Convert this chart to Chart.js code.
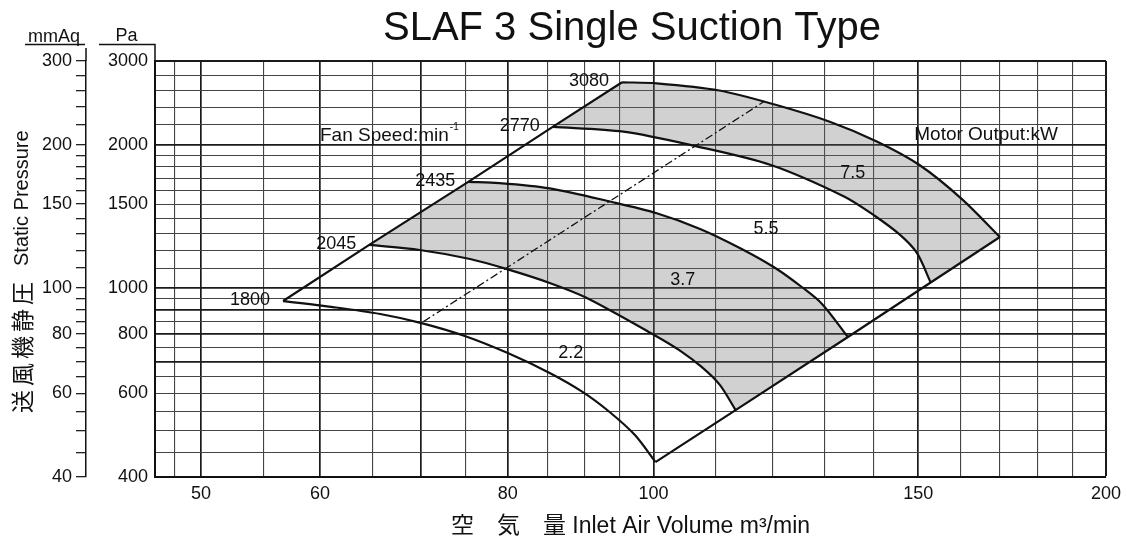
<!DOCTYPE html>
<html>
<head>
<meta charset="utf-8">
<script src="https://cdn.jsdelivr.net/npm/chart.js@4.4.0/dist/chart.umd.min.js"></script>
<style>
  html, body { margin: 0; padding: 0; background: #fff; }
  #wrap { width: 1127px; height: 540px; position: relative; }
</style>
</head>
<body>
<div id="wrap"><canvas id="chartSlaf"></canvas></div>
<script>
// === Data ===
const rpmSpeeds = [1800, 2045, 2435, 2770, 3080];

// fan curves: air volume (m3/min) / static pressure (Pa)
const q1800 = [56.7, 61.2, 65.8, 70.1, 74.9, 80.0, 85.3, 89.7, 93.5, 97.2, 100.3];
const p1800 = [938, 911, 881, 843, 792, 729, 662, 604, 548, 490, 430];
const q2045 = [64.7, 69.9, 75.5, 79.9, 85.3, 90.3, 100.3, 104.2, 107.7, 110.7, 113.4];
const p2045 = [1231, 1201, 1150, 1095, 1024, 952, 793, 737, 681, 625, 553];
const q2435 = [75.3, 79.0, 85.3, 93.7, 100.5, 107.4, 114.3, 120.5, 125.5, 129.5, 134.7];
const p2435 = [1670, 1661, 1619, 1517, 1435, 1330, 1210, 1101, 1004, 924, 788];
const q2770 = [85.7, 95.5, 106.3, 119.7, 134.0, 140.4, 145.9, 149.7, 152.9];
const p2770 = [2180, 2130, 1991, 1813, 1555, 1416, 1292, 1184, 1026];
const q3080 = [95.3, 100.5, 110.6, 120.4, 131.0, 140.9, 150.3, 160.4, 170.0];
const p3080 = [2706, 2693, 2601, 2430, 2236, 2030, 1813, 1537, 1279];

// dash-dot line
const bepQ = [70.3, 118.4];
const bepP = [849, 2463];

// motor output labels
const kwLabels = ["2.2", "3.7", "5.5", "7.5"];
const kwLabelQ = [88.1, 104.6, 118.8, 135.7];
const kwLabelP = [729, 1038, 1330, 1744];

// axes
const xGrid = [48, 50, 55, 60, 65, 70, 75, 80, 85, 90, 95, 100, 110, 120, 130, 140, 150, 160, 170, 180, 190, 200];
const xLabels = [50, 60, 80, 100, 150, 200];
const xMajor = [50, 60, 70, 80, 100, 150, 200];
const paGrid = [400, 450, 500, 550, 600, 650, 700, 750, 800, 850, 900, 950, 1000,
  1100, 1200, 1300, 1400, 1500, 1600, 1700, 1800, 1900, 2000, 2200, 2400, 2600, 2800, 3000];
const paLabels = [400, 600, 800, 1000, 1500, 2000, 3000];
const paMajor = [700, 800, 900, 1000, 2000];
const mmaqTicks = [40, 45, 50, 55, 60, 65, 70, 75, 80, 85, 90, 95, 100, 110, 120, 130, 140,
  150, 160, 170, 180, 190, 200, 220, 240, 260, 280, 300];
const mmaqLabels = [40, 60, 80, 100, 150, 200, 300];

// === Build datasets ===
const pts = (qs, ps) => qs.map((q, i) => ({ x: q, y: ps[i] }));
const curves = [pts(q1800, p1800), pts(q2045, p2045), pts(q2435, p2435), pts(q2770, p2770), pts(q3080, p3080)];
const leftLine = curves.map(c => c[0]);
const rightLine = curves.map(c => c[c.length - 1]);
const bandA = [...curves[1], ...curves[2].slice().reverse()];
const bandB = [...curves[3], ...curves[4].slice().reverse()];

const FONT = "'Liberation Sans', Arial, 'Noto Sans CJK JP', sans-serif";
Chart.defaults.font.family = FONT;
Chart.defaults.color = "#111";

const lineDs = (data, extra) => Object.assign({
  data, showLine: true, pointRadius: 0, borderColor: "#111", borderWidth: 2.2,
  fill: false, order: 1
}, extra);

const datasets = [
  lineDs(bandA, { backgroundColor: "rgba(105,105,105,0.31)", borderColor: "transparent", fill: "shape", order: 2 }),
  lineDs(bandB, { backgroundColor: "rgba(105,105,105,0.31)", borderColor: "transparent", fill: "shape", order: 2 }),
  ...curves.map(c => lineDs(c, { tension: 0.3 })),
  lineDs(leftLine),
  lineDs(rightLine),
  lineDs(pts(bepQ, bepP), { borderWidth: 1.3, borderDash: [8, 3, 2, 3] })
];

// === Texts on the chart ===
const annotations = {
  id: "annotations",
  afterDraw(chart) {
    const { ctx, chartArea, scales: { x, y, y2 } } = chart;
    ctx.save();
    ctx.fillStyle = "#111";
    ctx.strokeStyle = "#111";

    // title
    ctx.font = "40px " + FONT;
    ctx.textAlign = "center";
    ctx.textBaseline = "alphabetic";
    ctx.fillText("SLAF 3 Single Suction Type", 632, 40);

    // unit headers
    ctx.font = "18px " + FONT;
    ctx.fillText("mmAq", 54, 41.5);
    ctx.fillText("Pa", 126.5, 40.5);
    ctx.lineWidth = 1.5;
    ctx.beginPath();
    ctx.moveTo(25, 44.5); ctx.lineTo(85, 44.5);
    ctx.moveTo(99, 44.5); ctx.lineTo(chartArea.left, 44.5); ctx.lineTo(chartArea.left, chartArea.top);
    ctx.moveTo(y2.right, 48); ctx.lineTo(y2.right, chartArea.top);
    ctx.stroke();

    // rpm labels at the left ends of the curves
    ctx.font = "18px " + FONT;
    ctx.textAlign = "right";
    ctx.textBaseline = "middle";
    curves.forEach((c, i) => {
      ctx.fillText(String(rpmSpeeds[i]), x.getPixelForValue(c[0].x) - 13, y.getPixelForValue(c[0].y) - 1);
    });

    // kW labels
    ctx.textAlign = "center";
    kwLabels.forEach((t, i) => {
      ctx.fillText(t, x.getPixelForValue(kwLabelQ[i]), y.getPixelForValue(kwLabelP[i]));
    });

    // Fan Speed / Motor Output
    ctx.font = "19px " + FONT;
    ctx.textAlign = "left";
    const fx = x.getPixelForValue(60.0), fy = y.getPixelForValue(2092);
    ctx.fillText("Fan Speed:min", fx, fy);
    const w = ctx.measureText("Fan Speed:min").width;
    ctx.font = "10px " + FONT;
    ctx.fillText("-1", fx + w + 1, fy - 8);
    ctx.font = "19px " + FONT;
    ctx.fillText("Motor Output:kW", x.getPixelForValue(149.1), y.getPixelForValue(2096));

    // vertical axis title
    ctx.translate(22, (chartArea.top + chartArea.bottom) / 2);
    ctx.rotate(-Math.PI / 2);
    ctx.textAlign = "left";
    ctx.textBaseline = "middle";
    let pos = -144;
    ctx.font = "23px 'Noto Sans CJK JP', sans-serif";
    for (const ch of "送風機静圧") {
      ctx.fillText(ch, pos, 0);
      pos += 27;
    }
    ctx.font = "20px " + FONT;
    ctx.fillText("Static Pressure", pos + 12, 0);
    ctx.restore();
  }
};

// === Chart ===
const ctx = document.getElementById("chartSlaf").getContext("2d");
new Chart(ctx, {
  type: "scatter",
  data: { datasets },
  options: {
    responsive: true,
    maintainAspectRatio: false,
    animation: false,
    devicePixelRatio: 1,
    layout: { padding: { left: 0, right: 21, top: 61, bottom: 0 } },
    plugins: { legend: { display: false }, tooltip: { enabled: false } },
    scales: {
      x: {
        type: "logarithmic", min: 46.6, max: 200,
        afterBuildTicks: s => { s.ticks = xGrid.map(v => ({ value: v })); },
        afterFit: s => { s.height = 63; },
        ticks: {
          autoSkip: false, maxRotation: 0, padding: 6, font: { size: 18 },
          callback: v => xLabels.includes(v) ? String(v) : ""
        },
        grid: {
          drawTicks: false,
          color: c => xMajor.includes(c.tick.value) ? "#1a1a1a" : "#444",
          lineWidth: c => c.tick.value === 200 ? 2 : (xMajor.includes(c.tick.value) ? 1.7 : 1.1)
        },
        border: { display: true, color: "#111", width: 2 },
        title: {
          display: true, text: "空　気　量 Inlet Air Volume m³/min",
          font: { size: 23 }, padding: 0
        }
      },
      y: {
        type: "logarithmic", position: "left", min: 400, max: 3000,
        afterBuildTicks: s => { s.ticks = paGrid.map(v => ({ value: v })); },
        afterFit: s => { s.width = 69; },
        ticks: {
          autoSkip: false, padding: 7, font: { size: 18 },
          callback: v => paLabels.includes(v) ? String(v) : ""
        },
        grid: {
          drawTicks: false,
          color: c => paMajor.includes(c.tick.value) || c.tick.value === 3000 ? "#1a1a1a" : "#444",
          lineWidth: c => c.tick.value === 3000 ? 2 : (paMajor.includes(c.tick.value) ? 1.8 : 1.1)
        },
        border: { display: true, color: "#111", width: 2 }
      },
      y2: {
        type: "logarithmic", position: "left", min: 40, max: 300, weight: 1,
        afterBuildTicks: s => { s.ticks = mmaqTicks.map(v => ({ value: v })); },
        afterFit: s => { s.width = 86; },
        ticks: {
          autoSkip: false, padding: 4, font: { size: 18 },
          callback: v => mmaqLabels.includes(v) ? String(v) : ""
        },
        grid: { drawOnChartArea: false, drawTicks: true, tickLength: 10, color: "#222", lineWidth: 1.3 },
        border: { display: true, color: "#111", width: 1.5 }
      }
    }
  },
  plugins: [annotations]
});
</script>
</body>
</html>
